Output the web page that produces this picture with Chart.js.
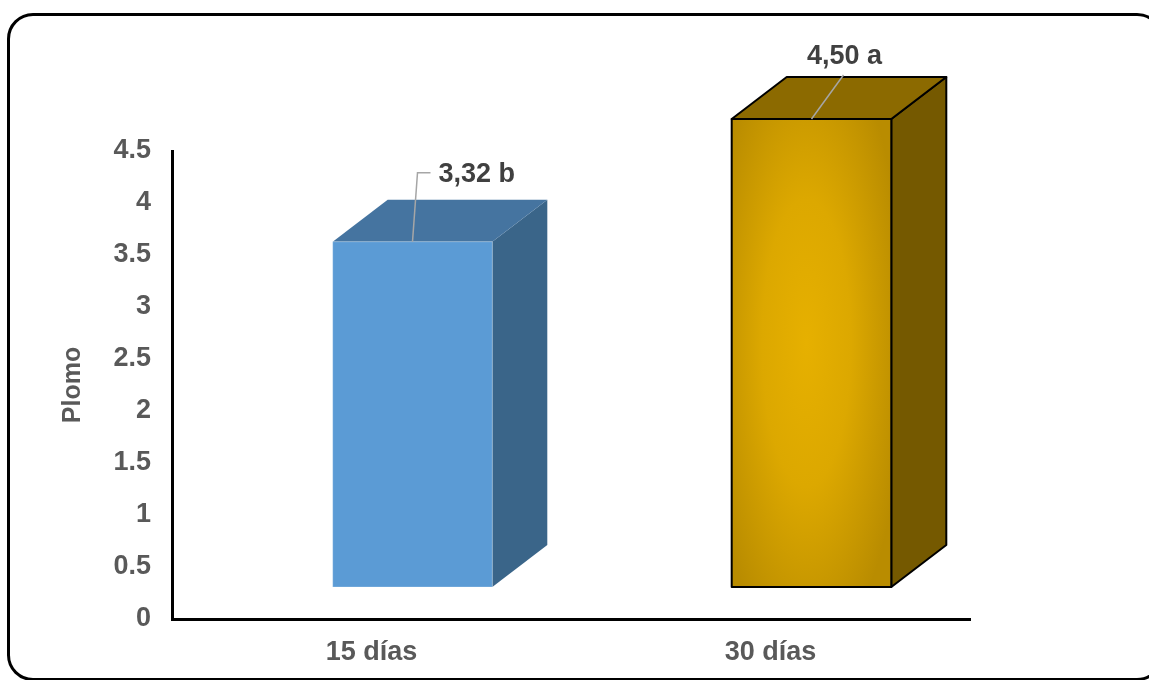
<!DOCTYPE html>
<html>
<head>
<meta charset="utf-8">
<title>Plomo</title>
<script src="https://cdn.jsdelivr.net/npm/chart.js@4/dist/chart.umd.min.js"></script>
<style>
  html, body { margin: 0; padding: 0; background: #fff; overflow: hidden; }
  #wrap { position: relative; width: 1149px; height: 680px; }
  #frame {
    position: absolute; left: 7px; top: 13px; width: 1156px; height: 668px;
    border: 3.5px solid #000; border-radius: 26px; box-sizing: border-box;
  }
  canvas { position: absolute; left: 0; top: 0; }
</style>
</head>
<body>
<div id="wrap">
  <div id="frame"></div>
  <canvas id="c" width="1149" height="680"></canvas>
</div>
<script>
// Lead (Plomo) content at 15 and 30 days
const categories = ['15 días', '30 días'];
const plomo = [3.32, 4.50];
const groups = ['b', 'a'];
const yTicks = [0, 0.5, 1, 1.5, 2, 2.5, 3, 3.5, 4, 4.5];

// Box styling for each bar
const boxStyles = [
  { front: '#5B9BD5', top: '#4574A0', side: '#3A6589', stroke: null, gradient: null },
  { front: '#C89800', top: '#8C6A00', side: '#755900', stroke: '#000',
    gradient: ['#E6B000', '#DCA800', '#B98C00'] }
];
// Leader line / label placement relative to the top front edge centre
const labelPlacement = [
  { path: [[0, 0], [5, -69], [18, -69]], text: [26, -67], align: 'left' },
  { path: [[0, 0], [32, -44]], text: [33, -62], align: 'center' }
];

const SHIFT_X = 41;   // front face projected right of the category slot
const LIFT_Y = 32;    // front face lifted above the floor line
const DEPTH_X = 55;   // receding depth of the box
const DEPTH_Y = 42;

const TICK_FONT = { family: '"Liberation Sans", Arial, sans-serif', size: 27, weight: 'bold' };

const boxes3d = {
  id: 'boxes3d',
  afterDatasetsDraw(chart) {
    const ctx = chart.ctx;
    const meta = chart.getDatasetMeta(0);
    meta.data.forEach((el, i) => {
      const st = boxStyles[i];
      const w = el.width;
      const x0 = el.x - w / 2 + SHIFT_X, x1 = el.x + w / 2 + SHIFT_X;
      const yTop = el.y - LIFT_Y, yBot = el.base - LIFT_Y;
      ctx.save();
      ctx.lineJoin = 'round';
      // right side face
      ctx.beginPath();
      ctx.moveTo(x1, yTop); ctx.lineTo(x1 + DEPTH_X, yTop - DEPTH_Y);
      ctx.lineTo(x1 + DEPTH_X, yBot - DEPTH_Y); ctx.lineTo(x1, yBot); ctx.closePath();
      ctx.fillStyle = st.side; ctx.fill();
      if (st.stroke) { ctx.strokeStyle = st.stroke; ctx.lineWidth = 2; ctx.stroke(); }
      // top face
      ctx.beginPath();
      ctx.moveTo(x0, yTop); ctx.lineTo(x0 + DEPTH_X, yTop - DEPTH_Y);
      ctx.lineTo(x1 + DEPTH_X, yTop - DEPTH_Y); ctx.lineTo(x1, yTop); ctx.closePath();
      ctx.fillStyle = st.top; ctx.fill();
      if (st.stroke) { ctx.strokeStyle = st.stroke; ctx.lineWidth = 2; ctx.stroke(); }
      // front face
      if (st.gradient) {
        ctx.save();
        const cx = (x0 + x1) / 2 - 5, cy = (yTop + yBot) / 2 - 10;
        const sy = (yBot - yTop) / (x1 - x0) * 1.1;
        ctx.beginPath(); ctx.rect(x0, yTop, x1 - x0, yBot - yTop); ctx.clip();
        ctx.translate(cx, cy); ctx.scale(1, sy);
        const g = ctx.createRadialGradient(0, 0, 0, 0, 0, (x1 - x0) * 0.62);
        g.addColorStop(0, st.gradient[0]);
        g.addColorStop(0.45, st.gradient[1]);
        g.addColorStop(1, st.gradient[2]);
        ctx.fillStyle = g;
        ctx.fillRect(-(x1 - x0), -(x1 - x0), 2 * (x1 - x0), 2 * (x1 - x0));
        ctx.restore();
      } else {
        ctx.fillStyle = st.front;
        ctx.fillRect(x0, yTop, x1 - x0, yBot - yTop);
      }
      ctx.beginPath(); ctx.rect(x0, yTop, x1 - x0, yBot - yTop);
      if (st.stroke) { ctx.strokeStyle = st.stroke; ctx.lineWidth = 2; ctx.stroke(); }
      else { ctx.strokeStyle = 'rgba(255,255,255,0.25)'; ctx.lineWidth = 1; ctx.stroke(); }

      // value label with leader line
      const lp = labelPlacement[i];
      const ax = (x0 + x1) / 2, ay = yTop;
      ctx.beginPath();
      lp.path.forEach((p, k) => {
        if (k === 0) ctx.moveTo(ax + p[0], ay + p[1]); else ctx.lineTo(ax + p[0], ay + p[1]);
      });
      ctx.strokeStyle = '#A6A6A6'; ctx.lineWidth = 1.5; ctx.lineJoin = 'miter'; ctx.stroke();
      ctx.fillStyle = '#404040';
      ctx.font = 'bold 27px "Liberation Sans", Arial, sans-serif';
      ctx.textAlign = lp.align; ctx.textBaseline = 'middle';
      const txt = plomo[i].toFixed(2).replace('.', ',') + ' ' + groups[i];
      ctx.fillText(txt, ax + lp.text[0], ay + lp.text[1]);
      ctx.restore();
    });
  }
};

new Chart(document.getElementById('c'), {
  type: 'bar',
  data: {
    labels: categories,
    datasets: [{
      label: 'Plomo',
      data: plomo,
      backgroundColor: 'rgba(0,0,0,0)',
      borderWidth: 0,
      barPercentage: 0.4,
      categoryPercentage: 1
    }]
  },
  options: {
    responsive: false,
    animation: false,
    events: [],
    layout: { padding: { left: 0, top: 151, right: 179, bottom: 0 } },
    plugins: { legend: { display: false }, tooltip: { enabled: false } },
    scales: {
      x: {
        grid: { display: false, drawTicks: false },
        border: { display: true, color: '#000', width: 3 },
        ticks: { color: '#595959', font: TICK_FONT, padding: 17 },
        afterFit(s) { s.height = 61; }
      },
      y: {
        min: 0, max: 4.5,
        grid: { display: false, drawTicks: false },
        border: { display: true, color: '#000', width: 3 },
        afterBuildTicks(s) { s.ticks = yTicks.map(v => ({ value: v })); },
        ticks: { color: '#595959', font: TICK_FONT, padding: 21,
                 callback: v => String(v) },
        title: { display: true, text: 'Plomo', color: '#595959',
                 font: { family: '"Liberation Sans", Arial, sans-serif', size: 25, weight: 'bold' },
                 padding: { top: 58, bottom: 0 } },
        afterFit(s) { s.width = 172; }
      }
    }
  },
  plugins: [boxes3d]
});
</script>
</body>
</html>
